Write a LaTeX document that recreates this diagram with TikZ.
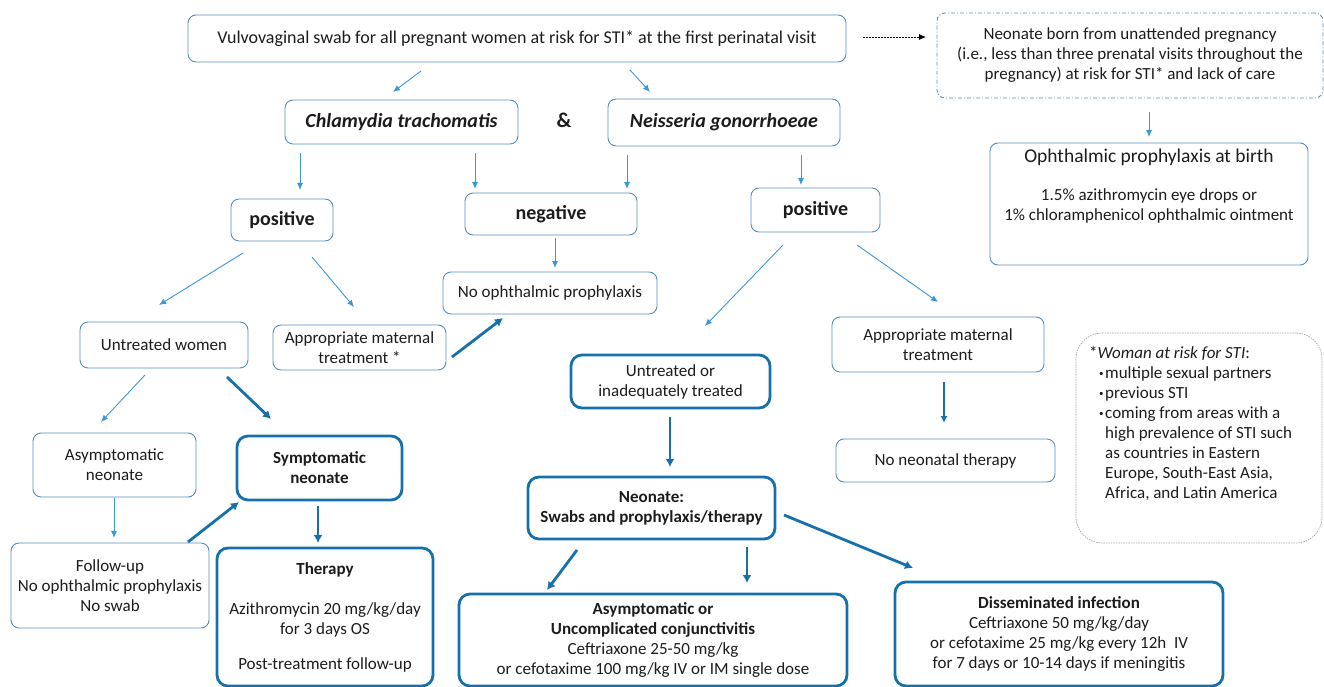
\documentclass[tikz,border=0pt]{standalone}
\usepackage{fontspec}
\setmainfont{Carlito}
\usetikzlibrary{arrows.meta,positioning}
\definecolor{thinblue}{RGB}{84,141,190}
\definecolor{thickblue}{RGB}{22,112,172}
\definecolor{arrowblue}{RGB}{58,152,214}
\definecolor{inkgray}{RGB}{28,28,28}
\newcommand{\riskitem}{\hspace*{10pt}\makebox[6pt][l]{\raisebox{1.5pt}{\small\textbullet}}}
\begin{document}
\begin{tikzpicture}[x=1pt,y=-1pt,
  font=\fontsize{17}{20}\selectfont, text=inkgray,
  thinbox/.style={draw=thinblue, line width=0.9pt, rounded corners=8pt, align=center, inner sep=0pt},
  thickbox/.style={draw=thickblue, line width=2.8pt, rounded corners=11pt, align=center, inner sep=0pt},
  thinarrow/.style={draw=arrowblue, line width=0.9pt, -{Latex[length=7pt,width=6pt]}},
  thickarrow/.style={draw=thickblue, line width=2.8pt, -{Latex[length=8pt,width=9pt]}},
  bigfont/.style={font=\fontsize{20}{22}\selectfont\bfseries},
  boldfont/.style={font=\fontsize{17}{20}\selectfont\bfseries}]
\useasboundingbox (0,0) rectangle (1324,687);
\node (top) [thinbox, font=\fontsize{18}{20}\selectfont, minimum width=658, minimum height=47] at (517,38.5)
  {Vulvovaginal swab for all pregnant women at risk for STI* at the first perinatal visit};
\node (born) [thinbox, dash pattern=on 4pt off 2pt on 1pt off 2pt, minimum width=386, minimum height=85] at (1130,55.5)
  {Neonate born from unattended pregnancy\\(i.e., less than three prenatal visits throughout the\\pregnancy) at risk for STI* and lack of care};
\node (chla) [thinbox, font=\fontsize{20}{22}\selectfont\bfseries\itshape, minimum width=233, minimum height=44] at (401.5,122)
  {Chlamydia trachomatis};
\node (amp) [font=\fontsize{21}{22}\selectfont\bfseries] at (564,120) {\&};
\node (neis) [thinbox, font=\fontsize{20}{22}\selectfont\bfseries\itshape, minimum width=232, minimum height=47] at (724,122.5)
  {Neisseria gonorrhoeae};
\node (oph) [thinbox, minimum width=318, minimum height=122] at (1149,204) {};
\node (ophtext) [below=6pt of oph.north, align=center, inner sep=0pt]
  {{\fontsize{19.5}{22}\selectfont Ophthalmic prophylaxis at birth}\\[18pt]
   1.5\% azithromycin eye drops or\\1\% chloramphenicol ophthalmic ointment};
\node (pos1) [thinbox, bigfont, minimum width=102, minimum height=42] at (282,220) {positive};
\node (neg) [thinbox, bigfont, minimum width=172, minimum height=42] at (551,214) {negative};
\node (pos2) [thinbox, bigfont, minimum width=129, minimum height=44] at (815.5,210) {positive};
\node (noproph) [thinbox, minimum width=214, minimum height=42] at (550,293) {No ophthalmic prophylaxis};
\node (untrw) [thinbox, minimum width=168, minimum height=46] at (164,345) {Untreated women};
\node (apm1) [thinbox, minimum width=173, minimum height=45] at (359.5,347.5) {Appropriate maternal\\treatment *};
\node (apm2) [thinbox, minimum width=212, minimum height=55] at (938,344.5) {Appropriate maternal\\treatment};
\node (untrinad) [thickbox, minimum width=199, minimum height=53] at (670.5,381.5) {Untreated or\\inadequately treated};
\node (nonn) [thinbox, minimum width=219, minimum height=43] at (945.5,460.5) {No neonatal therapy};
\node (risk) [draw=gray!70, dash pattern=on 1.5pt off 1pt, line width=0.7pt, rounded corners=26pt,
  minimum width=246, minimum height=210] at (1199,438) {};
\node (risktext) [anchor=north west, align=left, inner sep=0pt] at (1089,346)
  {*\textit{Woman at risk for STI}:\\
   \riskitem multiple sexual partners\\
   \riskitem previous STI\\
   \riskitem coming from areas with a\\
   \hspace*{16pt}high prevalence of STI such\\
   \hspace*{16pt}as countries in Eastern\\
   \hspace*{16pt}Europe, South-East Asia,\\
   \hspace*{16pt}Africa, and Latin America};
\node (asymp) [thinbox, minimum width=163, minimum height=64] at (114.5,465) {Asymptomatic\\neonate};
\node (symp) [thickbox, boldfont, minimum width=165, minimum height=64] at (319.5,468)
  {Symptomatic\\neonate};
\node (neoswab) [thickbox, boldfont, minimum width=247, minimum height=62] at (651.5,508)
  {Neonate:\\Swabs and prophylaxis/therapy};
\node (follow) [thinbox, minimum width=198, minimum height=85] at (110,585.5)
  {Follow-up\\No ophthalmic prophylaxis\\No swab};
\node (therapy) [thickbox, minimum width=216, minimum height=138] at (325,617)
  {\textbf{Therapy}\\[20pt]Azithromycin 20 mg/kg/day\\for 3 days OS\\[15pt]Post-treatment follow-up};
\node (auc) [thickbox, minimum width=388, minimum height=92] at (653,640)
  {\textbf{Asymptomatic or}\\\textbf{Uncomplicated conjunctivitis}\\Ceftriaxone 25-50 mg/kg\\or cefotaxime 100 mg/kg IV or IM single dose};
\node (dissem) [thickbox, minimum width=328, minimum height=104] at (1059,634)
  {\textbf{Disseminated infection}\\Ceftriaxone 50 mg/kg/day\\or cefotaxime 25 mg/kg every 12h\ \ IV\\for 7 days or 10-14 days if meningitis};
\draw [thinarrow]
([shift={(-96,32.5)}]top.center) -- ([shift={(-8.5,-30)}]chla.center);
\draw [thinarrow]
([shift={(113,31.5)}]top.center) -- ([shift={(-74,-30.5)}]neis.center);
\draw [thinarrow]
([shift={(-101.5,31)}]chla.center) -- ([shift={(18,-30)}]pos1.center);
\draw [thinarrow]
([shift={(73.5,31)}]chla.center) -- ([shift={(-76,-25)}]neg.center);
\draw [thinarrow]
([shift={(-97,32.5)}]neis.center) -- ([shift={(76,-25)}]neg.center);
\draw [thinarrow]
([shift={(77,32.5)}]neis.center) -- ([shift={(-14.5,-25)}]pos2.center);
\draw [black, line width=0.8pt, dash pattern=on 2pt off 1pt, -{Latex[length=7pt,width=6pt]}]
([shift={(346,-1.5)}]top.center) -- ([shift={(-204,-18.5)}]born.center);
\draw [thinarrow]
([shift={(19,56.5)}]born.center) -- ([shift={(0,-67)}]oph.center);
\draw [thinarrow]
([shift={(4,24)}]neg.center) -- ([shift={(5,-25)}]noproph.center);
\draw [thinarrow]
([shift={(-39,33)}]pos1.center) -- ([shift={(-5,-40)}]untrw.center);
\draw [thinarrow]
([shift={(30,37)}]pos1.center) -- ([shift={(-5.5,-40.5)}]apm1.center);
\draw [thickarrow]
([shift={(92.5,9.5)}]apm1.center) -- ([shift={(-47,25)}]noproph.center);
\draw [thinarrow]
([shift={(-32.5,35)}]pos2.center) -- ([shift={(34.5,-55.5)}]untrinad.center);
\draw [thinarrow]
([shift={(41.5,35)}]pos2.center) -- ([shift={(0,-42.5)}]apm2.center);
\draw [thickarrow, line width=1.3pt, -{Latex[length=7pt,width=7pt]}]
([shift={(6,37.5)}]apm2.center) -- ([shift={(-1.5,-37.5)}]nonn.center);
\draw [thinarrow]
([shift={(-19,30)}]untrw.center) -- ([shift={(-13.5,-43)}]asymp.center);
\draw [thickarrow]
([shift={(63,32)}]untrw.center) -- ([shift={(-48.5,-49)}]symp.center);
\draw [thinarrow]
([shift={(-0.5,33)}]asymp.center) -- ([shift={(4,-47.5)}]follow.center);
\draw [thickarrow]
([shift={(78,-43.5)}]follow.center) -- ([shift={(-80.5,34)}]symp.center);
\draw [thickarrow]
([shift={(-1.5,38)}]symp.center) -- ([shift={(-7,-74)}]therapy.center);
\draw [thickarrow]
([shift={(-0.5,35.5)}]untrinad.center) -- ([shift={(18.5,-41)}]neoswab.center);
\draw [thickarrow]
([shift={(-74.5,42)}]neoswab.center) -- ([shift={(-106,-50)}]auc.center);
\draw [thickarrow]
([shift={(95.5,39)}]neoswab.center) -- ([shift={(94,-57)}]auc.center);
\draw [thickarrow]
([shift={(132.5,7)}]neoswab.center) -- ([shift={(-146,-66)}]dissem.center);
\end{tikzpicture}
\end{document}
